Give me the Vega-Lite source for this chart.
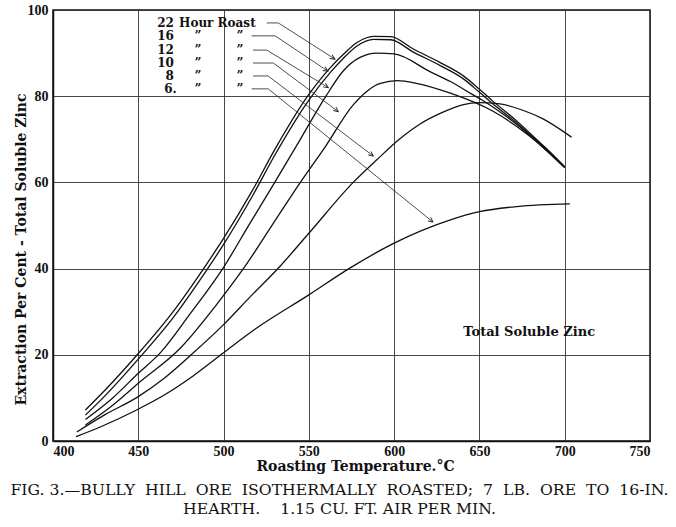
{
  "$schema": "https://vega.github.io/schema/vega-lite/v6.json",
  "width": 597,
  "height": 431,
  "autosize": {"type": "none"},
  "padding": {"left": 53, "top": 10, "right": 26, "bottom": 86},
  "background": "white",
  "config": {
    "view": {"stroke": "#111", "strokeWidth": 1.5},
    "axis": {
      "grid": true,
      "gridColor": "#333",
      "gridWidth": 0.9,
      "ticks": false,
      "domainColor": "#111",
      "domainWidth": 1.5,
      "labelFont": "Liberation Serif",
      "labelFontWeight": "bold",
      "labelFontSize": 14,
      "labelColor": "#111",
      "titleFont": "DejaVu Serif",
      "titleFontWeight": "bold",
      "titleFontSize": 13,
      "titleColor": "#111"
    }
  },
  "title": {
    "text": ["FIG. 3.—BULLY\u00a0 HILL\u00a0 ORE\u00a0 ISOTHERMALLY\u00a0 ROASTED;\u00a0 7\u00a0 LB.\u00a0 ORE\u00a0 TO\u00a0 16-IN.", "HEARTH.\u00a0\u00a0\u00a0 1.15 CU. FT. AIR PER MIN."],
    "orient": "bottom",
    "anchor": "middle",
    "font": "DejaVu Serif",
    "fontSize": 15.7,
    "fontWeight": "normal",
    "color": "#111",
    "lineHeight": 19,
    "offset": 10,
    "dx": -12
  },
  "datasets": {
    "curves": [
      {"s": "22", "t": 419, "v": 7.2}, {"s": "22", "t": 430, "v": 11.6}, {"s": "22", "t": 450, "v": 20.3}, {"s": "22", "t": 470, "v": 29.8}, {"s": "22", "t": 490, "v": 41}, {"s": "22", "t": 500, "v": 47}, {"s": "22", "t": 517, "v": 58.2}, {"s": "22", "t": 530, "v": 67.6}, {"s": "22", "t": 550, "v": 80.4}, {"s": "22", "t": 563, "v": 86.8}, {"s": "22", "t": 570, "v": 89.6}, {"s": "22", "t": 578, "v": 92.4}, {"s": "22", "t": 588, "v": 93.9}, {"s": "22", "t": 598, "v": 93.8}, {"s": "22", "t": 611, "v": 91.0}, {"s": "22", "t": 627, "v": 87.8}, {"s": "22", "t": 641, "v": 84.6}, {"s": "22", "t": 650, "v": 81.6}, {"s": "22", "t": 658, "v": 78.8}, {"s": "22", "t": 672, "v": 74.2}, {"s": "22", "t": 686, "v": 69}, {"s": "22", "t": 700, "v": 63.6},
      {"s": "16", "t": 419, "v": 6.0}, {"s": "16", "t": 430, "v": 10.3}, {"s": "16", "t": 450, "v": 19.0}, {"s": "16", "t": 470, "v": 28.4}, {"s": "16", "t": 490, "v": 39.6}, {"s": "16", "t": 500, "v": 45.6}, {"s": "16", "t": 517, "v": 56.9}, {"s": "16", "t": 530, "v": 66.3}, {"s": "16", "t": 550, "v": 79.1}, {"s": "16", "t": 563, "v": 85.7}, {"s": "16", "t": 570, "v": 88.7}, {"s": "16", "t": 578, "v": 91.6}, {"s": "16", "t": 588, "v": 93.2}, {"s": "16", "t": 598, "v": 93.1}, {"s": "16", "t": 611, "v": 90.3}, {"s": "16", "t": 627, "v": 87.1}, {"s": "16", "t": 641, "v": 83.9}, {"s": "16", "t": 650, "v": 80.9}, {"s": "16", "t": 658, "v": 78.2}, {"s": "16", "t": 672, "v": 73.7}, {"s": "16", "t": 686, "v": 68.6}, {"s": "16", "t": 700, "v": 63.4},
      {"s": "12", "t": 419, "v": 5.0}, {"s": "12", "t": 435, "v": 10.0}, {"s": "12", "t": 450, "v": 15.7}, {"s": "12", "t": 463, "v": 20.5}, {"s": "12", "t": 480, "v": 29.3}, {"s": "12", "t": 500, "v": 40.3}, {"s": "12", "t": 515, "v": 50.2}, {"s": "12", "t": 530, "v": 60}, {"s": "12", "t": 545, "v": 70}, {"s": "12", "t": 560, "v": 80}, {"s": "12", "t": 570, "v": 85.8}, {"s": "12", "t": 580, "v": 89}, {"s": "12", "t": 590, "v": 90}, {"s": "12", "t": 600, "v": 89.8}, {"s": "12", "t": 621, "v": 85.7}, {"s": "12", "t": 633, "v": 83.4}, {"s": "12", "t": 645, "v": 80.6}, {"s": "12", "t": 652, "v": 79}, {"s": "12", "t": 665, "v": 75.5}, {"s": "12", "t": 678, "v": 71.5}, {"s": "12", "t": 690, "v": 67.6}, {"s": "12", "t": 700, "v": 63.6},
      {"s": "10", "t": 419, "v": 3.7}, {"s": "10", "t": 435, "v": 8.3}, {"s": "10", "t": 450, "v": 13.4}, {"s": "10", "t": 475, "v": 21.7}, {"s": "10", "t": 495, "v": 31.2}, {"s": "10", "t": 512, "v": 40.2}, {"s": "10", "t": 530, "v": 51}, {"s": "10", "t": 545, "v": 60}, {"s": "10", "t": 560, "v": 68.5}, {"s": "10", "t": 576, "v": 78}, {"s": "10", "t": 592, "v": 83}, {"s": "10", "t": 602, "v": 83.6}, {"s": "10", "t": 613, "v": 83}, {"s": "10", "t": 633, "v": 80.7}, {"s": "10", "t": 658, "v": 76.5}, {"s": "10", "t": 678, "v": 71.2}, {"s": "10", "t": 700, "v": 63.6},
      {"s": "8", "t": 414, "v": 2.1}, {"s": "8", "t": 430, "v": 6.0}, {"s": "8", "t": 450, "v": 10.3}, {"s": "8", "t": 465, "v": 14.5}, {"s": "8", "t": 481, "v": 20}, {"s": "8", "t": 500, "v": 27}, {"s": "8", "t": 515, "v": 33.2}, {"s": "8", "t": 533, "v": 40.5}, {"s": "8", "t": 550, "v": 48.2}, {"s": "8", "t": 576, "v": 60}, {"s": "8", "t": 590, "v": 65.3}, {"s": "8", "t": 603, "v": 70}, {"s": "8", "t": 615, "v": 73.5}, {"s": "8", "t": 627, "v": 76}, {"s": "8", "t": 640, "v": 78}, {"s": "8", "t": 650, "v": 78.5}, {"s": "8", "t": 662, "v": 78.2}, {"s": "8", "t": 675, "v": 76.8}, {"s": "8", "t": 687, "v": 74.8}, {"s": "8", "t": 704, "v": 70.5},
      {"s": "6", "t": 413.5, "v": 1.0}, {"s": "6", "t": 428, "v": 3.3}, {"s": "6", "t": 449, "v": 7.2}, {"s": "6", "t": 465, "v": 10.6}, {"s": "6", "t": 479, "v": 14.2}, {"s": "6", "t": 500, "v": 20.5}, {"s": "6", "t": 519, "v": 26.1}, {"s": "6", "t": 550, "v": 33.9}, {"s": "6", "t": 574, "v": 40.1}, {"s": "6", "t": 600, "v": 45.9}, {"s": "6", "t": 633, "v": 51.3}, {"s": "6", "t": 650, "v": 53.2}, {"s": "6", "t": 672, "v": 54.4}, {"s": "6", "t": 703, "v": 55}
    ],
    "leaders": [
      {"id": "22", "k": 0, "t": 525.3, "v": 97.0}, {"id": "22", "k": 1, "t": 532.1, "v": 97.0}, {"id": "22", "k": 2, "t": 565.3, "v": 88.6},
      {"id": "16", "k": 0, "t": 516.5, "v": 94.0}, {"id": "16", "k": 1, "t": 530.2, "v": 94.0}, {"id": "16", "k": 2, "t": 561.2, "v": 85.8},
      {"id": "12", "k": 0, "t": 517.3, "v": 90.7}, {"id": "12", "k": 1, "t": 525.3, "v": 90.7}, {"id": "12", "k": 2, "t": 561.4, "v": 82.0},
      {"id": "10", "k": 0, "t": 517.3, "v": 87.7}, {"id": "10", "k": 1, "t": 529.2, "v": 87.7}, {"id": "10", "k": 2, "t": 567.3, "v": 76.4},
      {"id": "8", "k": 0, "t": 517.3, "v": 84.7}, {"id": "8", "k": 1, "t": 526.1, "v": 84.7}, {"id": "8", "k": 2, "t": 587.8, "v": 66.1},
      {"id": "6", "k": 0, "t": 516.5, "v": 81.7}, {"id": "6", "k": 1, "t": 526.2, "v": 81.7}, {"id": "6", "k": 2, "t": 622.8, "v": 50.8}
    ]
  },
  "encoding": {
    "x": {
      "field": "t",
      "type": "quantitative",
      "scale": {"domain": [400, 750], "nice": false, "zero": false},
      "axis": {
        "values": [400, 450, 500, 550, 600, 650, 700, 750],
        "labelPadding": 3,
        "title": "Roasting Temperature.°C",
        "titleX": 302,
        "titleY": 25,
        "titleBaseline": "middle",
        "titleAlign": "center",
        "titleFontSize": 14
      }
    },
    "y": {
      "field": "v",
      "type": "quantitative",
      "scale": {"domain": [0, 100], "nice": false},
      "axis": {
        "values": [0, 20, 40, 60, 80, 100],
        "labelPadding": 5,
        "title": "Extraction Per Cent - Total Soluble Zinc",
        "titleX": -32,
        "titleY": 239,
        "titleBaseline": "middle",
        "titleAlign": "center",
        "titleFontSize": 14
      }
    }
  },
  "layer": [
    {
      "data": {"name": "curves"},
      "mark": {"type": "line", "interpolate": "monotone", "stroke": "#111", "strokeWidth": 1.3},
      "encoding": {"detail": {"field": "s"}}
    },
    {
      "data": {"name": "leaders"},
      "mark": {"type": "line", "stroke": "#222", "strokeWidth": 0.8},
      "encoding": {"detail": {"field": "id"}, "order": {"field": "k", "type": "quantitative"}}
    },
    {
      "data": {"values": [{"t": 565.3, "v": 88.6}, {"t": 561.2, "v": 85.8}, {"t": 561.4, "v": 82.0}]},
      "mark": {"type": "point", "shape": "M-1.2,-0.55L0,0L-1.2,0.55", "filled": false, "stroke": "#222", "strokeWidth": 0.9, "size": 64, "angle": 32, "opacity": 1}
    },
    {
      "data": {"values": [{"t": 567.3, "v": 76.4}, {"t": 587.8, "v": 66.1}, {"t": 622.8, "v": 50.8}]},
      "mark": {"type": "point", "shape": "M-1.2,-0.55L0,0L-1.2,0.55", "filled": false, "stroke": "#222", "strokeWidth": 0.9, "size": 64, "angle": 38, "opacity": 1}
    },
    {
      "data": {"values": [{"txt": "22", "t": 470.9, "v": 97.0}, {"txt": "16", "t": 470.9, "v": 94.0}, {"txt": "12", "t": 470.9, "v": 90.7}, {"txt": "10", "t": 470.9, "v": 87.7}, {"txt": "8", "t": 470.9, "v": 84.7}, {"txt": "6.", "t": 472.5, "v": 81.7}]},
      "mark": {"type": "text", "align": "right", "baseline": "middle", "font": "DejaVu Serif", "fontWeight": "bold", "fontSize": 12, "color": "#111"},
      "encoding": {"text": {"field": "txt"}}
    },
    {
      "data": {"values": [{"txt": "Hour Roast", "t": 473.9, "v": 97.0}]},
      "mark": {"type": "text", "align": "left", "baseline": "middle", "font": "DejaVu Serif", "fontWeight": "bold", "fontSize": 12, "color": "#111"},
      "encoding": {"text": {"field": "txt"}}
    },
    {
      "data": {"values": [
        {"txt": "”", "t": 485.0, "v": 94.0}, {"txt": "”", "t": 485.0, "v": 90.7}, {"txt": "”", "t": 485.0, "v": 87.7}, {"txt": "”", "t": 485.0, "v": 84.7}, {"txt": "”", "t": 485.0, "v": 81.7},
        {"txt": "”", "t": 509.6, "v": 94.0}, {"txt": "”", "t": 509.6, "v": 90.7}, {"txt": "”", "t": 509.6, "v": 87.7}, {"txt": "”", "t": 509.6, "v": 84.7}, {"txt": "”", "t": 509.6, "v": 81.7}
      ]},
      "mark": {"type": "text", "align": "center", "baseline": "middle", "font": "DejaVu Serif", "fontWeight": "bold", "fontSize": 12, "color": "#111"},
      "encoding": {"text": {"field": "txt"}}
    },
    {
      "data": {"values": [{"txt": "Total Soluble Zinc", "t": 679.2, "v": 25.4}]},
      "mark": {"type": "text", "align": "center", "baseline": "middle", "font": "DejaVu Serif", "fontWeight": "bold", "fontSize": 13, "color": "#111"},
      "encoding": {"text": {"field": "txt"}}
    }
  ]
}
